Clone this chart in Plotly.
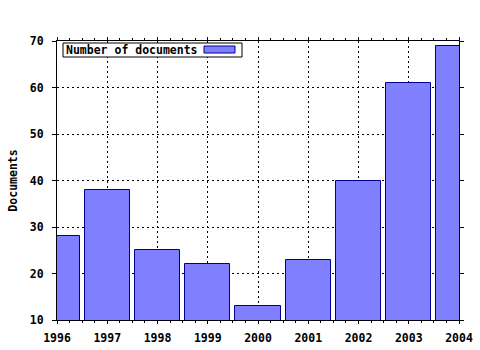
import plotly.graph_objects as go

years = [1996, 1997, 1998, 1999, 2000, 2001, 2002, 2003, 2004]
documents = [28, 38, 25, 22, 13, 23, 40, 61, 69]
series_name = "Number of documents"
y_title = "Documents"

FONT = dict(family="DejaVu Sans Mono", size=11.5, color="black", weight="bold")

fig = go.Figure()
fig.add_trace(go.Bar(
    x=years, y=documents, width=0.9, name=series_name,
    marker=dict(color="#8080ff", line=dict(color="#00008c", width=1)),
    showlegend=False,
))

fig.update_layout(
    width=480, height=350,
    margin=dict(l=57, r=21, t=41, b=30),
    paper_bgcolor="white", plot_bgcolor="white",
    font=FONT,
    bargap=0,
)
fig.update_xaxes(
    range=[1996, 2004], tickmode="array", tickvals=years,
    ticktext=[str(y) for y in years],
    showline=True, linecolor="black", linewidth=1, mirror="ticks",
    ticks="outside", ticklen=3, tickcolor="black",
    minor=dict(dtick=0.25, ticks="outside", ticklen=2, tickcolor="black", showgrid=False),
    showgrid=True, gridcolor="black", griddash="2px,3px", gridwidth=1,
    zeroline=False, tickfont=FONT, ticklabelstandoff=4, automargin=False,
)
fig.update_yaxes(
    range=[10, 70], tickmode="linear", tick0=10, dtick=10,
    showline=True, linecolor="black", linewidth=1, mirror="ticks",
    ticks="outside", ticklen=4, tickcolor="black",
    showgrid=True, gridcolor="black", griddash="2px,3px", gridwidth=1,
    zeroline=False, tickfont=FONT, ticklabelstandoff=6, automargin=False,
    title=dict(text=y_title, font=FONT, standoff=9),
)

# Legend box (text on the left, colour key on the right, like the original)
fig.add_shape(type="rect", xref="paper", yref="paper",
              x0=6/402, x1=185/402, y0=1-16/279, y1=1-2/279,
              line=dict(color="black", width=1), fillcolor="white", layer="above")
fig.add_annotation(xref="paper", yref="paper", x=7/402, y=1-9/279,
                   text=series_name, showarrow=False, xanchor="left", yanchor="middle",
                   font=FONT)
fig.add_shape(type="rect", xref="paper", yref="paper",
              x0=147/402, x1=178/402, y0=1-12/279, y1=1-5/279,
              line=dict(color="#00008c", width=1), fillcolor="#8080ff", layer="above")

fig.write_html("out.html")
